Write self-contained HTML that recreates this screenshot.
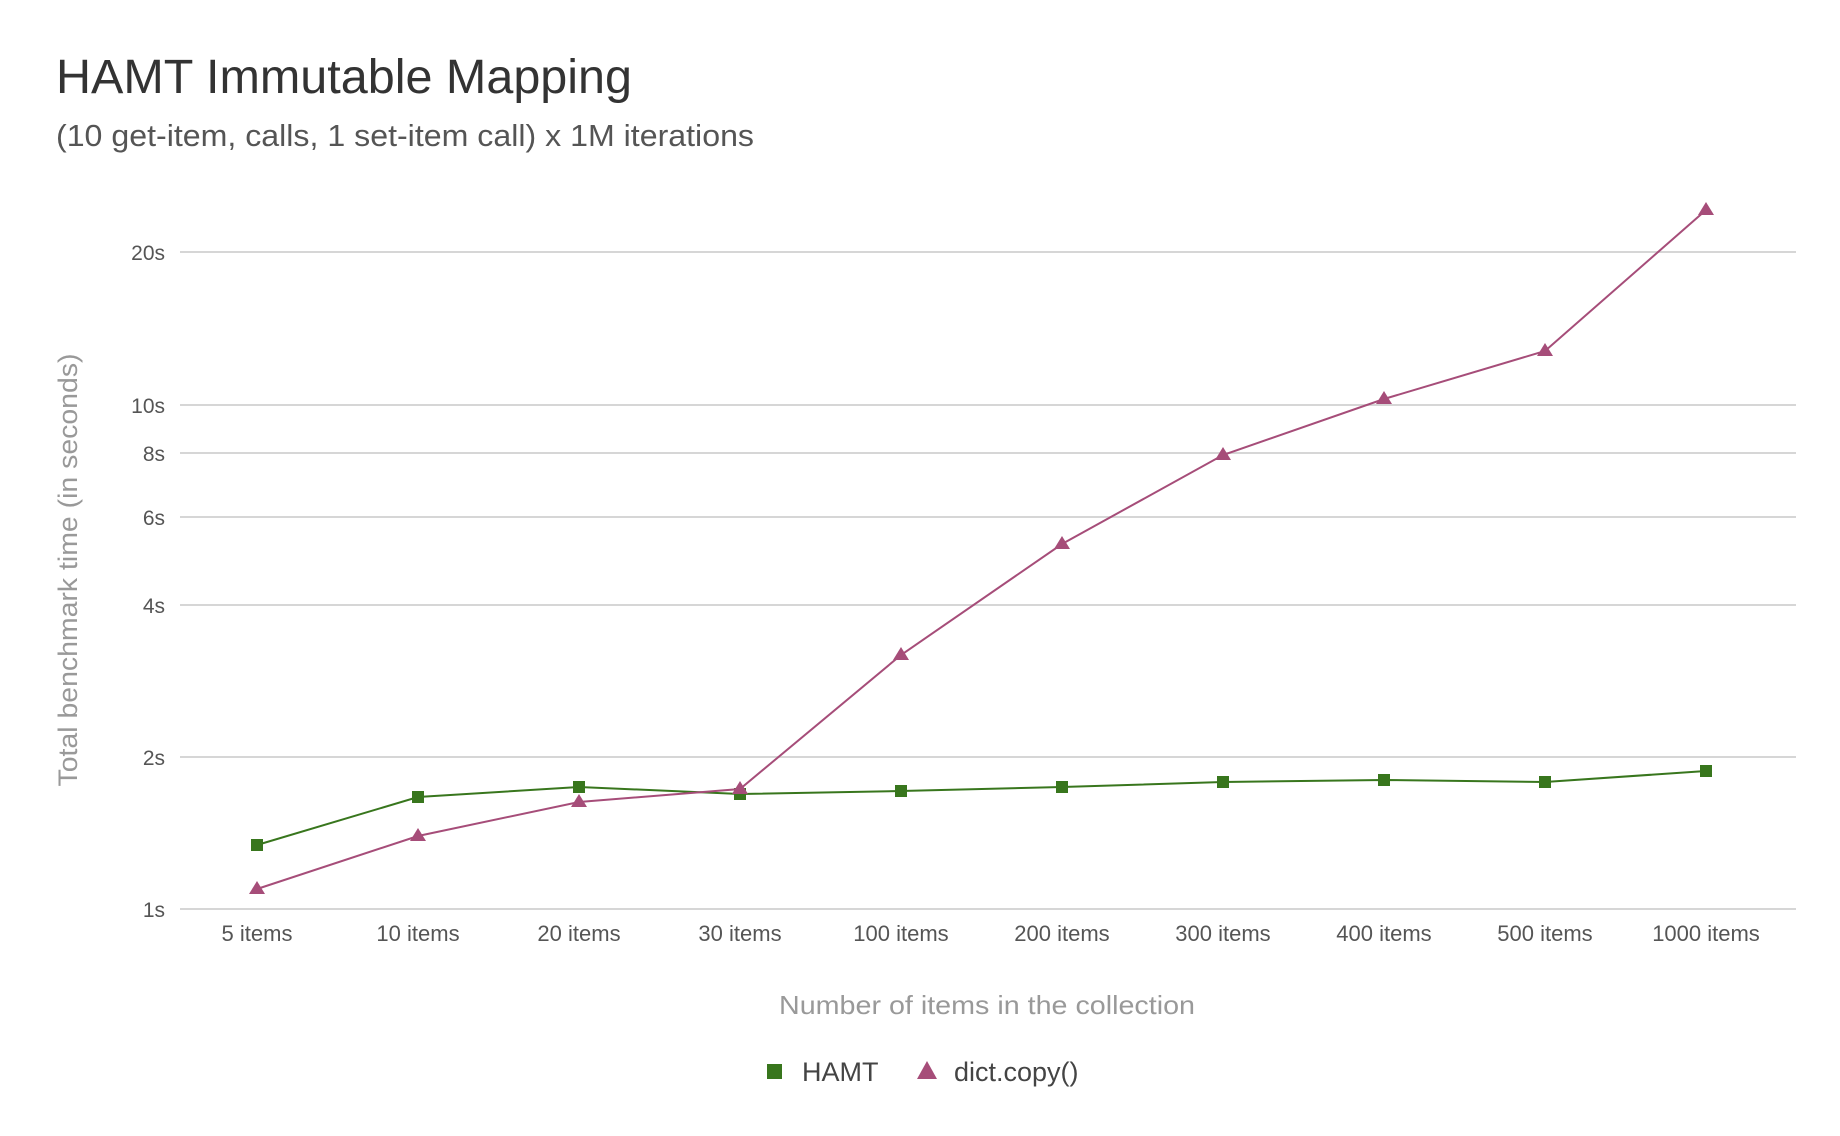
<!DOCTYPE html>
<html><head><meta charset="utf-8"><style>
html,body{margin:0;padding:0;background:#fff;}
svg{display:block;font-family:"Liberation Sans",sans-serif;}
</style></head><body>
<svg width="1840" height="1136" viewBox="0 0 1840 1136" xmlns="http://www.w3.org/2000/svg">
<rect width="1840" height="1136" fill="#fff"/>
<text x="56" y="93" font-size="48" fill="#333" textLength="576" lengthAdjust="spacingAndGlyphs">HAMT Immutable Mapping</text>
<text x="56" y="146" font-size="31" fill="#555" textLength="698" lengthAdjust="spacingAndGlyphs">(10 get-item, calls, 1 set-item call) x 1M iterations</text>
<g stroke="#d6d6d6" stroke-width="2">
<line x1="180" x2="1796" y1="252" y2="252"/>
<line x1="180" x2="1796" y1="405" y2="405"/>
<line x1="180" x2="1796" y1="453" y2="453"/>
<line x1="180" x2="1796" y1="517" y2="517"/>
<line x1="180" x2="1796" y1="605" y2="605"/>
<line x1="180" x2="1796" y1="757" y2="757"/>
<line x1="180" x2="1796" y1="909" y2="909"/>
</g>
<g font-size="21" fill="#555" text-anchor="end">
<text x="165" y="260">20s</text>
<text x="165" y="413">10s</text>
<text x="165" y="461">8s</text>
<text x="165" y="525">6s</text>
<text x="165" y="613">4s</text>
<text x="165" y="765">2s</text>
<text x="165" y="917">1s</text>
</g>
<g font-size="22" fill="#555" text-anchor="middle">
<text x="257" y="941">5 items</text>
<text x="418" y="941">10 items</text>
<text x="579" y="941">20 items</text>
<text x="740" y="941">30 items</text>
<text x="901" y="941">100 items</text>
<text x="1062" y="941">200 items</text>
<text x="1223" y="941">300 items</text>
<text x="1384" y="941">400 items</text>
<text x="1545" y="941">500 items</text>
<text x="1706" y="941">1000 items</text>
</g>
<text x="987" y="1014" font-size="26" fill="#999" text-anchor="middle" textLength="416" lengthAdjust="spacingAndGlyphs">Number of items in the collection</text>
<text transform="translate(77,570) rotate(-90)" font-size="27" fill="#999" text-anchor="middle" textLength="433" lengthAdjust="spacingAndGlyphs">Total benchmark time (in seconds)</text>
<polyline fill="none" stroke="#38761d" stroke-width="2" points="257,845 418,797 579,787 740,794 901,791 1062,787 1223,782 1384,780 1545,782 1706,771"/>
<g fill="#38761d">
<rect x="251" y="839" width="12" height="12"/><rect x="412" y="791" width="12" height="12"/><rect x="573" y="781" width="12" height="12"/><rect x="734" y="788" width="12" height="12"/><rect x="895" y="785" width="12" height="12"/><rect x="1056" y="781" width="12" height="12"/><rect x="1217" y="776" width="12" height="12"/><rect x="1378" y="774" width="12" height="12"/><rect x="1539" y="776" width="12" height="12"/><rect x="1700" y="765" width="12" height="12"/>
</g>
<polyline fill="none" stroke="#a64d79" stroke-width="2" points="257,889 418,836 579,802 740,789 901,655 1062,544 1223,455 1384,399 1545,351 1706,210"/>
<g fill="#a64d79">
<polygon points="257,881 265,894 249,894"/><polygon points="418,828 426,841 410,841"/><polygon points="579,794 587,807 571,807"/><polygon points="740,781 748,794 732,794"/><polygon points="901,647 909,660 893,660"/><polygon points="1062,536 1070,549 1054,549"/><polygon points="1223,447 1231,460 1215,460"/><polygon points="1384,391 1392,404 1376,404"/><polygon points="1545,343 1553,356 1537,356"/><polygon points="1706,202 1714,215 1698,215"/>
</g>
<rect x="767" y="1064" width="15" height="15" fill="#38761d"/>
<text x="802" y="1081" font-size="27" fill="#444">HAMT</text>
<polygon points="927,1061 937,1079 917,1079" fill="#a64d79"/>
<text x="954" y="1081" font-size="27" fill="#444">dict.copy()</text>
</svg>
</body></html>
